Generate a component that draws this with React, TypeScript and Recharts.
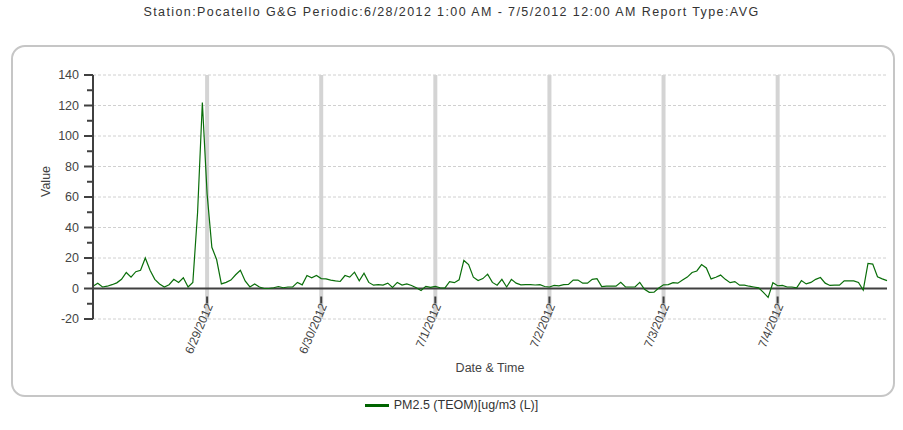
import { CartesianGrid, Line, LineChart, ReferenceLine, XAxis, YAxis } from "recharts";

// hourly PM2.5 averages, index 0 = start of 6/28/2012
const pm25 = [
  1.5, 3.5, 1, 1.5, 2.5, 3.7, 6, 10.5, 7.5, 11, 12, 20, 12, 6, 3, 1, 2.5, 6, 4, 7, 1, 4, 50, 122,
  62, 27, 19, 3, 4, 5.5, 9, 12, 5, 1, 3, 1, 0, 0, 0.5, 1.3, 0.5, 1, 1, 4, 2.4, 8.5, 7, 8.5,
  6.5, 6.3, 5.5, 5, 4.6, 8.5, 7.5, 10.7, 5, 10, 4, 2.2, 2.6, 2.2, 3.5, 0.7, 4, 2.3, 3, 2, 0.5, -1.3, 1.4, 0.7,
  1.4, 0.5, 0.3, 4.5, 3.8, 5.7, 18.4, 15.7, 7.4, 5.2, 6.5, 9.4, 4, 2.2, 6, 1, 6, 3.5, 2.4, 2.6, 2.6, 2.3, 2.5, 1.3,
  1, 2, 1.7, 2.5, 2.7, 5.5, 5.5, 3.5, 3.5, 6, 6.5, 1.3, 1.5, 1.5, 1.5, 4, 1, 1, 1, 4, -0.5, -2.5, -2.4, 0.3,
  2.4, 2.6, 3.8, 3.5, 5.5, 7.5, 10.5, 11.5, 15.7, 13.5, 6.3, 7.4, 8.8, 6, 3.8, 4.5, 2.2, 2.2, 1.5, 1, 0.4, -2.5, -5.8, 3.8,
  1.8, 2, 1, 1, 0.5, 5.2, 3, 4, 6, 7.2, 3.5, 2, 2.2, 2.2, 5, 5, 5, 4, -1, 16.5, 16, 7.7, 6.3, 5.2,
];

const dayTicks = [24, 48, 72, 96, 120, 144];
const dayLabels = ["6/29/2012", "6/30/2012", "7/1/2012", "7/2/2012", "7/3/2012", "7/4/2012"];
const yTicks = [-20, -10, 0, 10, 20, 30, 40, 50, 60, 70, 80, 90, 100, 110, 120, 130, 140];
const yGrid = [-20, 0, 20, 40, 60, 80, 100, 120, 140];

const data = pm25.map((v, i) => ({ hour: i, value: v }));

const W = 903;
const H = 430;
const TOP = 75;
const BOTTOM = 111;
const Y_MIN = -20;
const Y_MAX = 140;
const PLOT_H = H - TOP - BOTTOM;
const ZERO_OFFSET = (PLOT_H * (0 - Y_MIN)) / (Y_MAX - Y_MIN); // distance from plot bottom to y=0

const font = "'Liberation Sans', Arial, sans-serif";
const axisColor = "#404040";

function DayTick(props: any) {
  const { x, y, payload } = props;
  const zy = y - ZERO_OFFSET;
  const label = dayLabels[dayTicks.indexOf(payload.value)];
  const ax = x + 6;
  const ay = zy + 9;
  return (
    <g>
      <line x1={x} x2={x} y1={zy} y2={zy + 7} stroke={axisColor} strokeWidth={2} />
      <text
        x={ax}
        y={ay}
        textAnchor="end"
        fontSize={12}
        fill="#444"
        fontFamily={font}
        transform={`rotate(-67, ${ax}, ${ay})`}
      >
        {label}
      </text>
    </g>
  );
}

function ValueTick(props: any) {
  const { x, y, payload } = props;
  const major = payload.value % 20 === 0;
  return (
    <g>
      <line x1={x - (major ? 9 : 6)} x2={x} y1={y} y2={y} stroke={axisColor} strokeWidth={2} />
      {major && (
        <text x={x - 14} y={y} dy={4} textAnchor="end" fontSize={12.5} fill="#444" fontFamily={font}>
          {payload.value}
        </text>
      )}
    </g>
  );
}

export default function App() {
  return (
    <div style={{ position: "absolute", left: 0, top: 0, width: W, height: H, background: "#fff", fontFamily: font }}>
      <div
        style={{
          position: "absolute",
          left: 0,
          top: 5,
          width: W,
          textAlign: "center",
          fontSize: 12.5,
          letterSpacing: 1.4,
          color: "#333",
        }}
      >
        Station:Pocatello G&amp;G Periodic:6/28/2012 1:00 AM - 7/5/2012 12:00 AM Report Type:AVG
      </div>
      <div
        style={{
          position: "absolute",
          left: 11,
          top: 45,
          width: 880,
          height: 348,
          border: "2px solid #c6c6c6",
          borderRadius: 14,
        }}
      />
      <div style={{ position: "absolute", left: 0, top: 0 }}>
        <LineChart width={W} height={H} data={data} margin={{ top: TOP, right: 16, bottom: 0, left: 0 }}>
          <CartesianGrid
            vertical={false}
            horizontalValues={yGrid}
            stroke="#d0d0d0"
            strokeDasharray="3 2"
          />
          {dayTicks.map((t) => (
            <ReferenceLine key={t} x={t} stroke="#d4d4d4" strokeWidth={4} />
          ))}
          <XAxis
            dataKey="hour"
            type="number"
            domain={[0, 167]}
            ticks={dayTicks}
            interval={0}
            tick={<DayTick />}
            tickLine={false}
            axisLine={false}
            height={BOTTOM}
            label={{ value: "Date & Time", position: "insideBottom", offset: 58, fontSize: 12.5, fill: "#444", fontFamily: font }}
          />
          <YAxis
            type="number"
            domain={[Y_MIN, Y_MAX]}
            ticks={yTicks}
            interval={0}
            width={93}
            tick={<ValueTick />}
            tickLine={false}
            tickSize={0}
            tickMargin={0}
            axisLine={{ stroke: axisColor, strokeWidth: 2 }}
            label={{ value: "Value", angle: -90, position: "insideLeft", offset: 46, fontSize: 12.5, fill: "#444", fontFamily: font }}
          />
          <ReferenceLine y={0} stroke={axisColor} strokeWidth={2} />
          <Line
            type="linear"
            dataKey="value"
            stroke="#0a6e0a"
            strokeWidth={1.2}
            dot={false}
            isAnimationActive={false}
          />
        </LineChart>
      </div>
      <div
        style={{
          position: "absolute",
          left: 0,
          top: 398,
          width: W,
          display: "flex",
          justifyContent: "center",
          alignItems: "center",
          fontSize: 12.5,
          color: "#333",
        }}
      >
        <span style={{ display: "inline-block", width: 24, height: 3, background: "#006400", marginRight: 5 }} />
        <span>PM2.5 (TEOM)[ug/m3 (L)]</span>
      </div>
    </div>
  );
}
